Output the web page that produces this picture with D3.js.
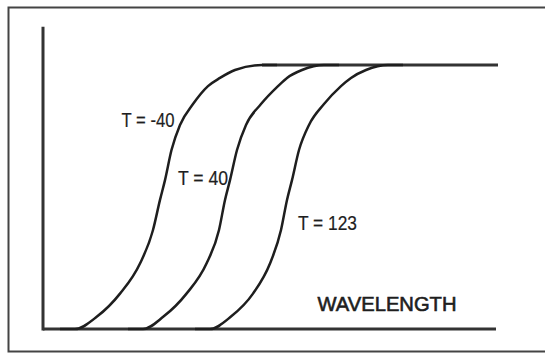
<!DOCTYPE html>
<html>
<head>
<meta charset="utf-8">
<script src="https://cdn.jsdelivr.net/npm/d3@7/dist/d3.min.js"></script>
<style>
  html, body { margin: 0; padding: 0; background: #fff; }
  svg { display: block; }
  text { font-family: "Liberation Sans", Arial, Helvetica, sans-serif; fill: #1e1e1e; }
</style>
</head>
<body>
<svg id="chart" width="545" height="354"></svg>
<script>
// Filter transmission edge vs. wavelength at three temperatures.
// Wavelength in arbitrary units, transmission in percent.
const seriesNames = ["T = -40", "T = 40", "T = 123"];

const wlMinus40 = [6.4, 10.8, 15.4, 19.4, 22.0, 23.4, 24.4, 25.7, 27.4, 30.0, 33.0, 35.4, 38.4, 43.8];
const trMinus40 = [0, 4.7, 13.4, 24.8, 37.5, 48.9, 56.4, 67.8, 77.3, 85.2, 92.0, 95.1, 98.1, 100];

const wl40 = [20.0, 24.1, 28.7, 32.7, 35.2, 36.4, 37.4, 38.8, 40.6, 43.6, 47.0, 48.8, 51.8, 56.2];
const tr40 = [0, 4.7, 13.4, 24.8, 37.5, 48.9, 56.4, 67.8, 77.3, 85.2, 92.0, 95.1, 98.1, 100];

const wl123 = [33.4, 37.6, 42.0, 45.4, 47.6, 48.8, 49.8, 51.2, 53.2, 56.2, 59.6, 61.6, 64.6, 69.0];
const tr123 = [0, 4.7, 13.4, 24.8, 37.5, 48.9, 56.4, 67.8, 77.3, 85.2, 92.0, 95.1, 98.1, 100];

// Label anchor points (wavelength, transmission) for each curve label
const labelWl = [15.7, 27.0, 51.0];
const labelTr = [76.5, 54.5, 37.5];
const labelWidths = [53, 50, 59];

const axisLabel = "WAVELENGTH";
const wlEnd = 91;        // right end of plateau / baseline
const trAxisTop = 114.5; // top of vertical axis

const svg = d3.select("#chart");

const x = d3.scaleLinear().domain([0, 91]).range([43, 498]);
const y = d3.scaleLinear().domain([0, 100]).range([329, 65]);

// Outer frame (right edge runs off the canvas)
svg.append("rect")
  .attr("x", 8.5).attr("y", 7.5)
  .attr("width", 560).attr("height", 344)
  .attr("fill", "none")
  .attr("stroke", "#444")
  .attr("stroke-width", 2);

// Axes: plain lines, no ticks
const axisG = svg.append("g").attr("stroke", "#333").attr("stroke-width", 3).attr("fill", "none");
axisG.append("line")
  .attr("x1", x(0)).attr("x2", x(0))
  .attr("y1", y(trAxisTop)).attr("y2", y(0) + 1.5);
axisG.append("line")
  .attr("x1", x(0)).attr("x2", x(wlEnd - 0.4))
  .attr("y1", y(0)).attr("y2", y(0));

// Plateau at full transmission
axisG.append("line")
  .attr("x1", x(wlMinus40[wlMinus40.length - 1])).attr("x2", x(wlEnd))
  .attr("y1", y(100)).attr("y2", y(100));

const series = [
  { wl: wlMinus40, tr: trMinus40 },
  { wl: wl40, tr: tr40 },
  { wl: wl123, tr: tr123 }
];

const line = d3.line()
  .x(d => x(d[0]))
  .y(d => y(d[1]))
  .curve(d3.curveMonotoneX);

series.forEach(s => {
  // flat lead-in on the baseline and lead-out on the plateau keep the ends tangent
  const pts = [[s.wl[0] - 3, 0]].concat(s.wl.map((w, i) => [w, s.tr[i]])).concat([[s.wl[s.wl.length - 1] + 3, 100]]);
  svg.append("path")
    .attr("d", line(pts))
    .attr("fill", "none")
    .attr("stroke", "#1e1e1e")
    .attr("stroke-width", 2.5);
});

// Curve labels (narrow lettering)
seriesNames.forEach((name, i) => {
  svg.append("text")
    .attr("x", x(labelWl[i]))
    .attr("y", y(labelTr[i]))
    .attr("font-size", 19.5)
    .attr("textLength", labelWidths[i])
    .attr("lengthAdjust", "spacingAndGlyphs")
    .attr("stroke", "#1e1e1e")
    .attr("stroke-width", 0.2)
    .text(name);
});

// Axis caption
svg.append("text")
  .attr("x", x(54.9))
  .attr("y", y(6.8))
  .attr("font-size", 20)
  .attr("textLength", 139)
  .attr("lengthAdjust", "spacingAndGlyphs")
  .attr("stroke", "#1e1e1e")
  .attr("stroke-width", 0.6)
  .text(axisLabel);
</script>
</body>
</html>
